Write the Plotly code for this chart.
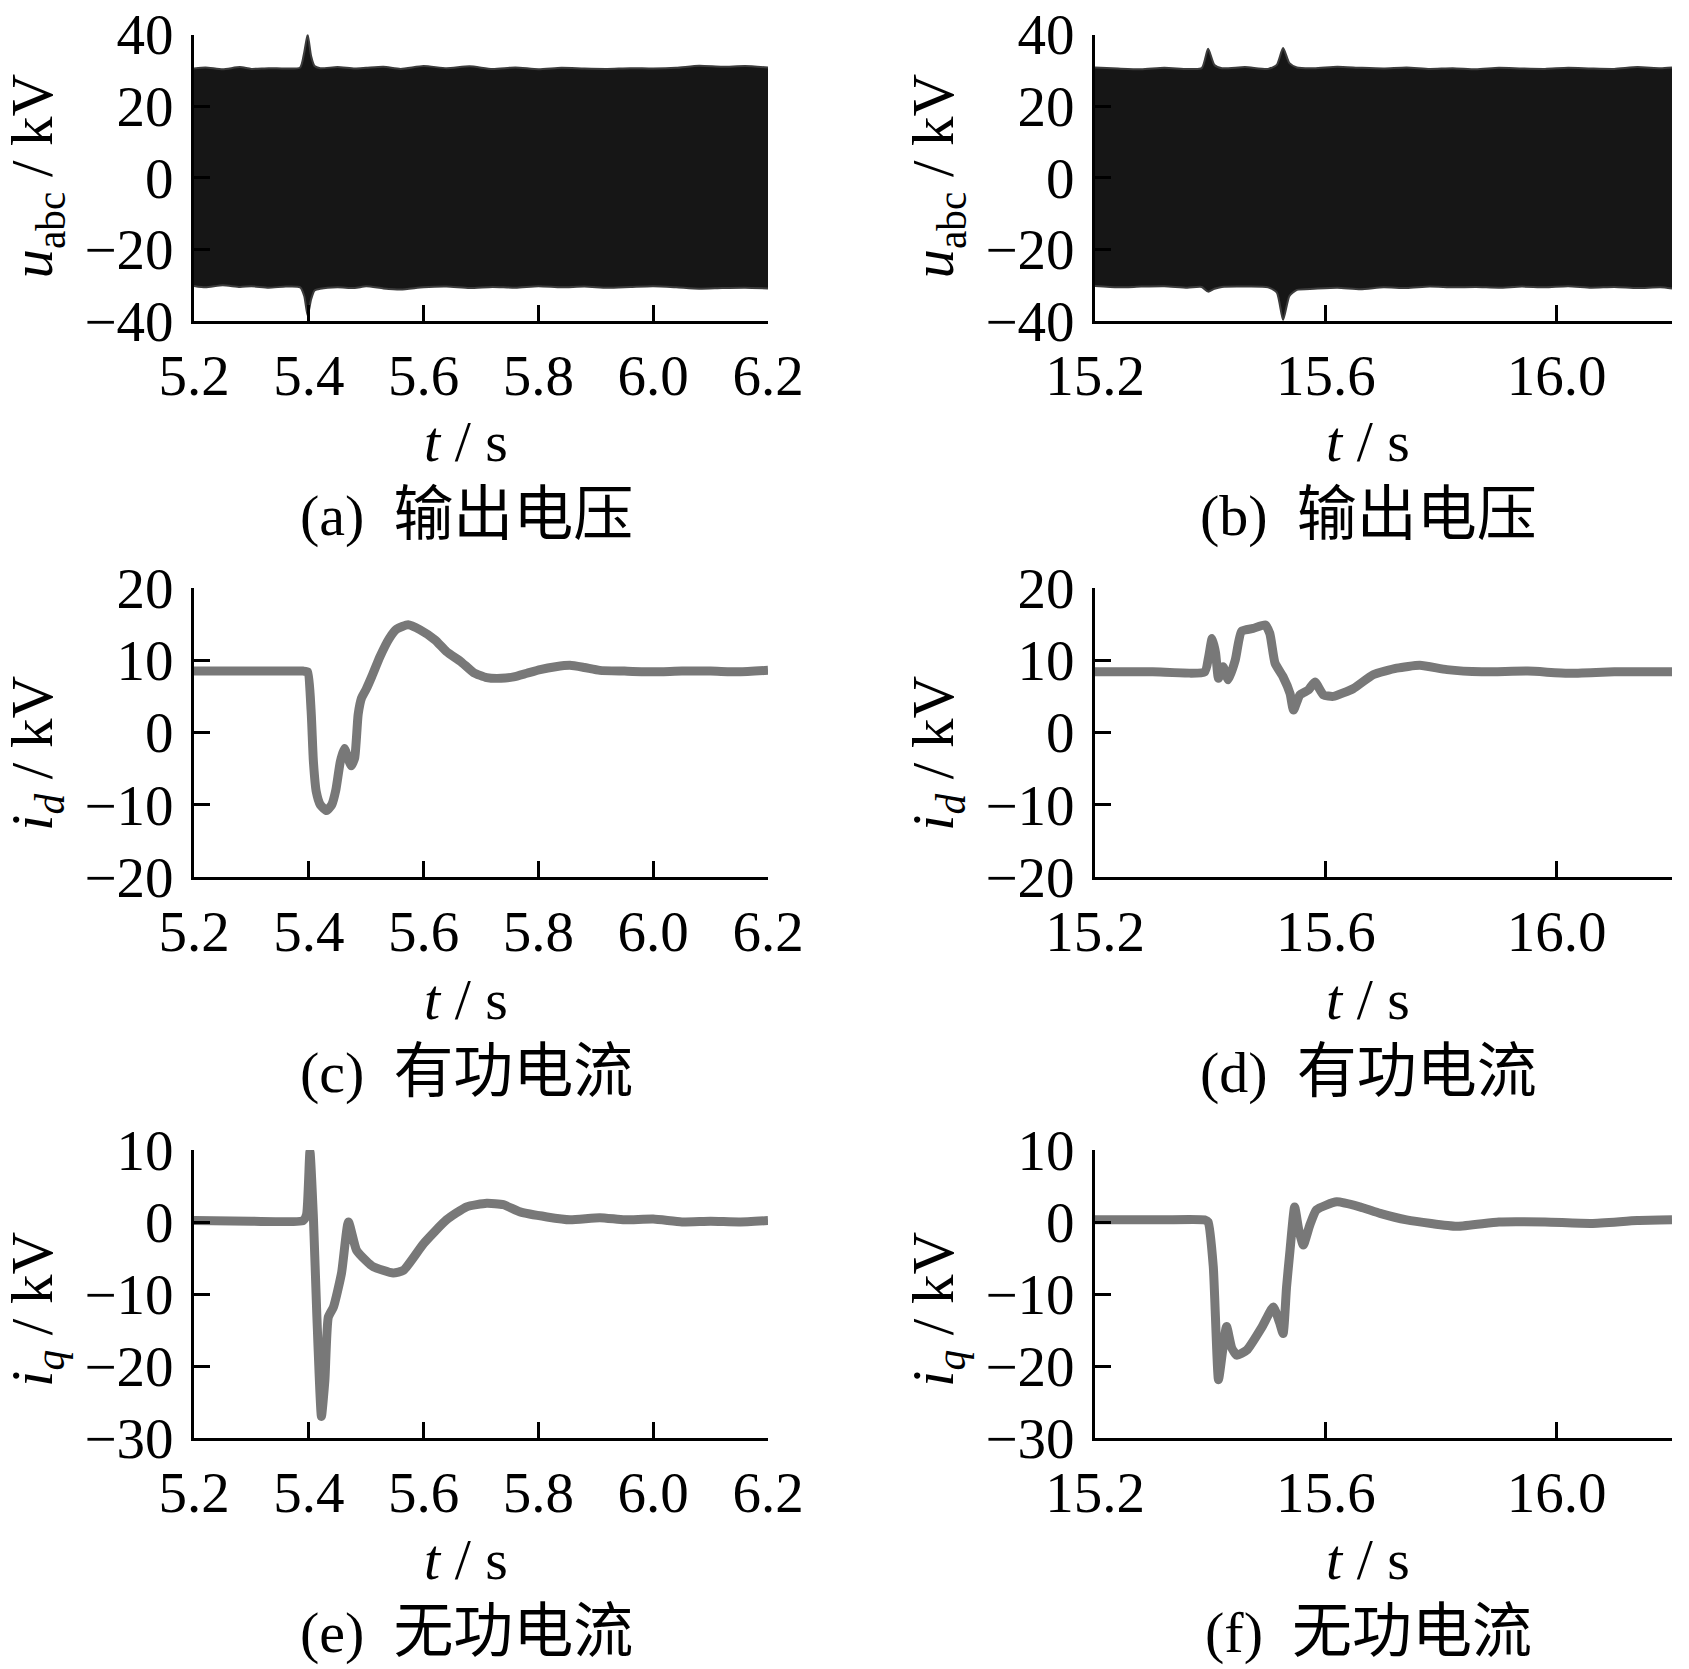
import plotly.graph_objects as go

W, H = 1689, 1669

# ---------------- data ----------------
# (a) output voltage envelope, 5.2-6.2 s
t_a = [5.2, 5.22, 5.25, 5.28, 5.3, 5.33, 5.36, 5.385, 5.392, 5.398, 5.404, 5.41, 5.42, 5.45, 5.48,
       5.5, 5.53, 5.56, 5.6, 5.64, 5.68, 5.72, 5.76, 5.8, 5.84, 5.88, 5.92, 5.96, 6.0, 6.04, 6.08,
       6.12, 6.16, 6.2]
ua_upper = [30.5, 30.8, 30.3, 30.9, 30.4, 30.6, 30.5, 30.8, 35.0, 40.0, 34.0, 31.2, 30.6, 30.9, 30.5,
            30.7, 31.0, 30.4, 31.2, 30.6, 31.1, 30.4, 30.8, 30.3, 30.7, 30.5, 30.4, 30.6, 30.5, 30.7,
            31.3, 31.0, 31.2, 30.8]
ua_lower = [-30.2, -30.6, -30.0, -30.5, -30.3, -30.7, -30.4, -30.6, -33.0, -38.5, -34.0, -31.5, -31.0,
            -30.6, -30.8, -30.3, -30.9, -31.2, -30.6, -30.4, -30.8, -30.5, -30.7, -30.3, -30.6, -30.4,
            -30.7, -30.5, -30.3, -30.6, -31.0, -30.8, -30.7, -30.9]

# (b) output voltage envelope, 15.2-16.2 s
t_b = [15.2, 15.24, 15.28, 15.32, 15.36, 15.385, 15.396, 15.407, 15.42, 15.46, 15.5, 15.515, 15.526,
       15.537, 15.55, 15.58, 15.62, 15.66, 15.7, 15.74, 15.78, 15.82, 15.86, 15.9, 15.94, 15.98,
       16.02, 16.06, 16.1, 16.14, 16.18, 16.2]
ub_upper = [30.8, 30.5, 30.3, 30.7, 30.4, 30.6, 36.0, 31.5, 30.6, 30.9, 30.4, 31.5, 36.2, 32.0, 30.8,
            30.6, 31.0, 30.7, 30.5, 30.8, 30.4, 30.6, 30.3, 30.7, 30.5, 30.4, 30.7, 30.5, 30.4, 30.9,
            30.6, 30.8]
ub_lower = [-30.2, -30.6, -30.4, -30.3, -30.7, -30.5, -31.8, -31.0, -30.5, -30.4, -30.6, -32.0, -39.7,
            -33.0, -31.3, -31.0, -30.7, -31.1, -30.6, -30.8, -30.4, -30.6, -30.5, -30.7, -30.4, -30.6,
            -30.3, -30.7, -30.5, -30.8, -30.6, -30.9]

# (c) active current i_d, 5.2-6.2 s
t_c = [5.20, 5.30, 5.39, 5.398, 5.404, 5.408, 5.413, 5.42, 5.431, 5.44, 5.447, 5.455, 5.462, 5.468,
       5.474, 5.48, 5.486, 5.492, 5.50, 5.51, 5.524, 5.54, 5.553, 5.573, 5.594, 5.62, 5.64, 5.665,
       5.687, 5.71, 5.735, 5.757, 5.78, 5.803, 5.83, 5.855, 5.88, 5.907, 5.95, 6.00, 6.05, 6.10, 6.15,
       6.20]
id_c = [8.5, 8.5, 8.5, 8.4, 3.0, -4.0, -8.2, -10.0, -10.8, -10.0, -8.0, -4.0, -2.2, -3.5, -4.6, -3.5,
        2.5, 4.8, 6.0, 7.8, 10.5, 13.0, 14.3, 14.9, 14.2, 12.8, 11.2, 9.8, 8.3, 7.6, 7.5, 7.7, 8.2,
        8.7, 9.1, 9.3, 9.0, 8.6, 8.5, 8.4, 8.5, 8.5, 8.4, 8.6]

# (d) active current i_d, 15.2-16.2 s
t_d = [15.20, 15.30, 15.39, 15.397, 15.403, 15.409, 15.414, 15.422, 15.431, 15.443, 15.454, 15.474,
       15.495, 15.503, 15.512, 15.526, 15.538, 15.544, 15.555, 15.57, 15.581, 15.596, 15.613, 15.648,
       15.682, 15.723, 15.763, 15.81, 15.87, 15.95, 16.02, 16.1, 16.2]
id_d = [8.4, 8.4, 8.4, 10.5, 13.0, 11.0, 7.5, 9.1, 7.3, 10.0, 14.0, 14.4, 14.9, 13.7, 9.6, 7.7, 5.4,
        3.1, 5.2, 5.9, 7.0, 5.2, 5.0, 6.1, 8.0, 8.9, 9.3, 8.7, 8.4, 8.5, 8.2, 8.4, 8.4]

# (e) reactive current i_q, 5.2-6.2 s
t_e = [5.20, 5.30, 5.39, 5.396, 5.402, 5.408, 5.414, 5.422, 5.428, 5.434, 5.443, 5.457, 5.469, 5.483,
       5.50, 5.512, 5.547, 5.565, 5.60, 5.64, 5.675, 5.71, 5.739, 5.768, 5.815, 5.855, 5.907, 5.95,
       6.00, 6.05, 6.10, 6.15, 6.20]
iq_e = [0.2, 0.1, 0.2, 1.0, 9.8, 0.7, -13.0, -27.0, -22.0, -13.2, -11.8, -7.1, 0.0, -3.9, -5.4, -6.2,
        -7.1, -6.7, -3.0, 0.3, 2.1, 2.6, 2.4, 1.4, 0.7, 0.3, 0.6, 0.3, 0.4, 0.0, 0.1, 0.0, 0.2]

# (f) reactive current i_q, 15.2-16.2 s
t_f = [15.20, 15.30, 15.39, 15.396, 15.405, 15.414, 15.421, 15.428, 15.437, 15.446, 15.463, 15.49,
       15.509, 15.52, 15.526, 15.532, 15.538, 15.546, 15.553, 15.561, 15.572, 15.584, 15.619, 15.659,
       15.694, 15.74, 15.827, 15.90, 15.98, 16.06, 16.14, 16.2]
iq_f = [0.3, 0.3, 0.3, 0.0, -6.2, -21.9, -18.0, -14.5, -17.5, -18.5, -17.8, -14.5, -11.8, -14.0, -15.5,
        -9.0, -3.9, 2.1, -1.0, -3.2, -0.5, 1.7, 2.8, 2.1, 1.2, 0.3, -0.6, 0.0, 0.0, -0.2, 0.2, 0.3]

# tick labels / ranges
xt_left = [5.2, 5.4, 5.6, 5.8, 6.0, 6.2]
xt_right = [15.2, 15.6, 16.0]
yt_u = [-40, -20, 0, 20, 40]
yt_id = [-20, -10, 0, 10, 20]
yt_iq = [-30, -20, -10, 0, 10]

cap_labels = ["(a)", "(b)", "(c)", "(d)", "(e)", "(f)"]
cap_texts = ["输出电压", "输出电压", "有功电流", "有功电流", "无功电流", "无功电流"]
ytitles = ["<i>u</i><sub>abc</sub> / kV", "<i>u</i><sub>abc</sub> / kV",
           "<i>i</i><sub><i>d</i></sub> / kV", "<i>i</i><sub><i>d</i></sub> / kV",
           "<i>i</i><sub><i>q</i></sub> / kV", "<i>i</i><sub><i>q</i></sub> / kV"]

# ---------------- layout geometry (pixels) ----------------
cols = [(194, 768), (1095, 1672)]
rows = [(34.5, 321), (588, 877), (1150, 1438)]

FONT = "Liberation Serif, Times New Roman, Noto Sans CJK SC, serif"
FS = 57

fig = go.Figure()

band_fill = "rgb(22,22,22)"
band_line = dict(color="rgb(60,60,60)", width=2, shape="spline", smoothing=0.6)
curve_line = dict(color="rgb(120,120,120)", width=9, shape="spline", smoothing=0.5)

# voltage bands
fig.add_trace(go.Scatter(x=t_a, y=ua_lower, mode="lines", line=band_line, xaxis="x", yaxis="y",
                         showlegend=False))
fig.add_trace(go.Scatter(x=t_a, y=ua_upper, mode="lines", line=band_line, fill="tonexty",
                         fillcolor=band_fill, xaxis="x", yaxis="y", showlegend=False))
fig.add_trace(go.Scatter(x=t_b, y=ub_lower, mode="lines", line=band_line, xaxis="x2", yaxis="y2",
                         showlegend=False))
fig.add_trace(go.Scatter(x=t_b, y=ub_upper, mode="lines", line=band_line, fill="tonexty",
                         fillcolor=band_fill, xaxis="x2", yaxis="y2", showlegend=False))
# currents
fig.add_trace(go.Scatter(x=t_c, y=id_c, mode="lines", line=curve_line, xaxis="x3", yaxis="y3",
                         showlegend=False))
fig.add_trace(go.Scatter(x=t_d, y=id_d, mode="lines", line=curve_line, xaxis="x4", yaxis="y4",
                         showlegend=False))
fig.add_trace(go.Scatter(x=t_e, y=iq_e, mode="lines", line=curve_line, xaxis="x5", yaxis="y5",
                         showlegend=False))
fig.add_trace(go.Scatter(x=t_f, y=iq_f, mode="lines", line=curve_line, xaxis="x6", yaxis="y6",
                         showlegend=False))

axis_common = dict(showline=True, linewidth=3, linecolor="black", ticks="inside", ticklen=16,
                   tickwidth=3, tickcolor="black", showgrid=False, zeroline=False, automargin=False,
                   tickfont=dict(family=FONT, size=FS, color="black"))

yranges = [[-40, 40], [-20, 20], [-30, 10]]
ytickss = [yt_u, yt_id, yt_iq]
layout = {}
annotations = []
ytitle_yc = [176.6, 754, 1310]
xtitle_y = [441.6, 999.6, 1559.7]
caption_y = [515, 1071.8, 1632]
for r in range(3):
    for c in range(2):
        k = r * 2 + c + 1
        sx = "" if k == 1 else str(k)
        x0, x1 = cols[c]
        y0, y1 = rows[r]
        xr = [5.2, 6.2] if c == 0 else [15.2, 16.2]
        xt = xt_left if c == 0 else xt_right
        layout["xaxis" + sx] = dict(axis_common, domain=[x0 / W, x1 / W], range=xr, tickvals=xt,
                                    tickformat=".1f", anchor="y" + sx, ticklabelstandoff=3)
        layout["yaxis" + sx] = dict(axis_common, domain=[1 - y1 / H, 1 - y0 / H], range=yranges[r],
                                    tickvals=ytickss[r], anchor="x" + sx, ticklabelstandoff=6)
        xc = 466 if c == 0 else 1368
        ytx = 36 if c == 0 else 937
        annotations.append(dict(text=ytitles[k - 1], x=ytx / W, y=1 - ytitle_yc[r] / H, xref="paper",
                                yref="paper", textangle=-90, showarrow=False, xanchor="center",
                                yanchor="middle", font=dict(family=FONT, size=59, color="black")))
        annotations.append(dict(text="<i>t</i> / s", x=xc / W, y=1 - xtitle_y[r] / H, xref="paper",
                                yref="paper", showarrow=False, xanchor="center", yanchor="middle",
                                font=dict(family=FONT, size=58, color="black")))
        cap = (cap_labels[k - 1] + "\u00a0\u00a0"
               + "<span style='font-size:60px'>" + cap_texts[k - 1] + "</span>")
        annotations.append(dict(text=cap, x=xc / W, y=1 - caption_y[r] / H, xref="paper",
                                yref="paper", showarrow=False, xanchor="center", yanchor="middle",
                                font=dict(family=FONT, size=58, color="black")))

fig.update_layout(**layout)
fig.update_layout(width=W, height=H, margin=dict(l=0, r=0, t=0, b=0), paper_bgcolor="white",
                  plot_bgcolor="white", annotations=annotations, showlegend=False)

fig.write_html("out.html", config={"displayModeBar": False},
               post_script="document.body.style.margin='0px';")
